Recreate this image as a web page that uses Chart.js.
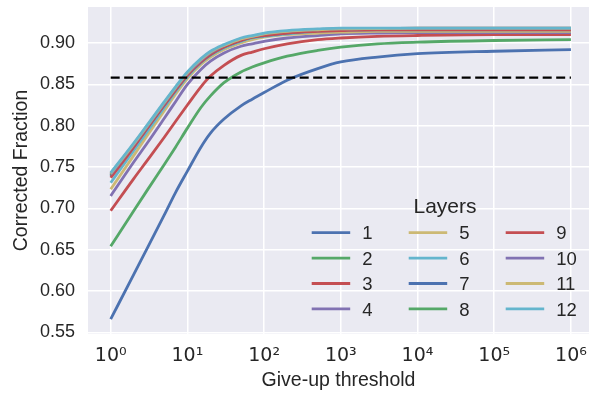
<!DOCTYPE html>
<html><head><meta charset="utf-8">
<script src="https://cdn.jsdelivr.net/npm/chart.js@4.4.0/dist/chart.umd.min.js"></script>
<style>html,body{margin:0;padding:0;background:#fff;}#wrap{width:589px;height:395px;}</style>
</head><body><div id="wrap"><canvas id="c" width="589" height="395"></canvas></div>
<script>
// ---- data ----
const thresholds = [1, 2, 3, 5, 7, 10, 15, 20, 30, 50, 70, 100, 200, 500, 1000, 3000, 10000, 100000, 1000000];
const layer1  = [0.566, 0.620, 0.652, 0.692, 0.719, 0.745, 0.774, 0.791, 0.808, 0.824, 0.832, 0.840, 0.855, 0.869, 0.877, 0.883, 0.887, 0.890, 0.892];
const layer2  = [0.654, 0.697, 0.722, 0.753, 0.774, 0.797, 0.822, 0.836, 0.852, 0.865, 0.871, 0.876, 0.884, 0.891, 0.895, 0.899, 0.901, 0.903, 0.904];
const layer3  = [0.697, 0.736, 0.758, 0.786, 0.805, 0.825, 0.847, 0.860, 0.873, 0.885, 0.889, 0.893, 0.899, 0.904, 0.906, 0.908, 0.909, 0.910, 0.910];
const layer4  = [0.715, 0.756, 0.779, 0.809, 0.829, 0.850, 0.868, 0.878, 0.888, 0.896, 0.899, 0.902, 0.906, 0.909, 0.911, 0.912, 0.9125, 0.9125, 0.9125];
const layer5  = [0.723, 0.764, 0.788, 0.818, 0.838, 0.857, 0.874, 0.883, 0.892, 0.900, 0.904, 0.907, 0.910, 0.912, 0.913, 0.914, 0.914, 0.914, 0.914];
const layer6  = [0.731, 0.770, 0.793, 0.822, 0.841, 0.859, 0.876, 0.885, 0.894, 0.902, 0.906, 0.908, 0.911, 0.914, 0.915, 0.916, 0.916, 0.916, 0.916];
const layer7  = [0.739, 0.775, 0.797, 0.825, 0.843, 0.861, 0.877, 0.886, 0.895, 0.903, 0.907, 0.909, 0.912, 0.915, 0.916, 0.9165, 0.917, 0.917, 0.917];
const layer8  = [0.740, 0.776, 0.798, 0.826, 0.844, 0.862, 0.878, 0.887, 0.896, 0.904, 0.907, 0.910, 0.913, 0.915, 0.916, 0.917, 0.917, 0.917, 0.917];
const layer9  = [0.737, 0.774, 0.797, 0.825, 0.843, 0.861, 0.877, 0.886, 0.895, 0.903, 0.907, 0.909, 0.912, 0.914, 0.915, 0.916, 0.916, 0.916, 0.916];
const layer10 = [0.741, 0.777, 0.799, 0.827, 0.845, 0.863, 0.879, 0.888, 0.897, 0.905, 0.908, 0.911, 0.914, 0.916, 0.917, 0.9175, 0.918, 0.918, 0.918];
const layer11 = [0.742, 0.778, 0.800, 0.828, 0.846, 0.864, 0.880, 0.889, 0.897, 0.905, 0.908, 0.911, 0.914, 0.916, 0.917, 0.9175, 0.918, 0.918, 0.918];
const layer12 = [0.743, 0.779, 0.801, 0.829, 0.847, 0.865, 0.881, 0.890, 0.898, 0.906, 0.909, 0.912, 0.915, 0.917, 0.918, 0.918, 0.918, 0.918, 0.918];
const layerSeries = [layer1, layer2, layer3, layer4, layer5, layer6, layer7, layer8, layer9, layer10, layer11, layer12];
const layerNames = ['1', '2', '3', '4', '5', '6', '7', '8', '9', '10', '11', '12'];
const baselineX = [1, 1000000];
const baselineY = [0.858, 0.858];
const xTickValues = [1, 10, 100, 1000, 10000, 100000, 1000000];
const yTickValues = [0.55, 0.60, 0.65, 0.70, 0.75, 0.80, 0.85, 0.90];
const legendTitle = 'Layers';
const xTitle = 'Give-up threshold';
const yTitle = 'Corrected Fraction';

// ---- styles ----
const palette = ['#4C72B0', '#55A868', '#C44E52', '#8172B2', '#CCB974', '#64B5CD'];
const FONT = '"Liberation Sans", Arial, Helvetica, sans-serif';
const MATHFONT = '"DejaVu Sans", sans-serif';
const TEXT = '#262626';
const sup = {'0':'\u2070','1':'\u00B9','2':'\u00B2','3':'\u00B3','4':'\u2074','5':'\u2075','6':'\u2076','7':'\u2077','8':'\u2078','9':'\u2079'};

const datasets = layerSeries.map((vals, i) => ({
  label: layerNames[i],
  data: thresholds.map((t, j) => ({x: t, y: vals[j]})),
  borderColor: palette[i % 6],
  backgroundColor: palette[i % 6],
  borderWidth: 2.8,
  pointRadius: 0,
  fill: false,
  cubicInterpolationMode: 'monotone',
  order: 12 - i + 1
}));
datasets.push({
  label: '_baseline',
  data: baselineX.map((x, j) => ({x, y: baselineY[j]})),
  borderColor: '#000000',
  borderWidth: 2.2,
  borderDash: [9, 4.5],
  pointRadius: 0,
  fill: false,
  order: 0
});

const bgPlugin = {
  id: 'bg',
  beforeDraw(chart) {
    const {ctx, chartArea: a} = chart;
    ctx.save();
    ctx.fillStyle = '#EAEAF2';
    ctx.fillRect(a.left, a.top, a.right - a.left, a.bottom - a.top);
    ctx.restore();
  }
};

const legendPlugin = {
  id: 'gridLegend',
  afterDatasetsDraw(chart) {
    const {ctx, chartArea: a} = chart;
    ctx.save();
    ctx.fillStyle = TEXT;
    ctx.font = '21px ' + FONT;
    ctx.textAlign = 'center';
    ctx.textBaseline = 'alphabetic';
    ctx.fillText(legendTitle, a.left + 357, a.bottom - 121.3);
    const fs = 18.5;
    ctx.font = fs + 'px ' + FONT;
    ctx.textAlign = 'left';
    for (let i = 0; i < 12; i++) {
      const ds = chart.data.datasets[i];
      const col = Math.floor(i / 4), row = i % 4;
      const x0 = a.left + 223.7 + col * 97;
      const y = a.bottom - 101.3 + row * 25.4;
      ctx.strokeStyle = ds.borderColor;
      ctx.lineWidth = 2.8;
      ctx.lineCap = 'butt';
      ctx.beginPath();
      ctx.moveTo(x0, y);
      ctx.lineTo(x0 + 38.5, y);
      ctx.stroke();
      ctx.fillStyle = TEXT;
      ctx.fillText(ds.label, x0 + 50.5, y + 0.358 * fs);
    }
    ctx.restore();
  }
};

function zeroPad(scale) {
  scale.paddingTop = 0; scale.paddingBottom = 0; scale.paddingLeft = 0; scale.paddingRight = 0;
}

new Chart(document.getElementById('c'), {
  type: 'line',
  data: {datasets},
  plugins: [bgPlugin, legendPlugin],
  options: {
    responsive: false,
    animation: false,
    devicePixelRatio: 1,
    layout: {padding: {left: 0, top: 7, right: 0, bottom: 0}},
    plugins: {legend: {display: false}, tooltip: {enabled: false}},
    scales: {
      x: {
        type: 'logarithmic',
        min: 0.506,
        max: 1720000,
        afterBuildTicks(scale) { scale.ticks = xTickValues.map(v => ({value: v})); },
        afterFit(scale) { scale.height = 61; zeroPad(scale); },
        ticks: {
          autoSkip: false,
          maxRotation: 0,
          padding: 11,
          color: TEXT,
          font: {family: MATHFONT, size: 19},
          callback(v) {
            const e = Math.round(Math.log10(v));
            return '10' + String(e).split('').map(c => sup[c]).join('');
          }
        },
        grid: {color: '#FFFFFF', lineWidth: 1.5, drawTicks: false},
        border: {display: false},
        title: {display: true, text: xTitle, color: TEXT, font: {family: FONT, size: 19.5}, padding: {top: 0, bottom: 3}}
      },
      y: {
        type: 'linear',
        min: 0.548,
        max: 0.9435,
        afterBuildTicks(scale) { scale.ticks = yTickValues.map(v => ({value: v})); },
        afterFit(scale) { scale.width = 88; zeroPad(scale); },
        ticks: {
          padding: 13,
          color: TEXT,
          font: {family: FONT, size: 18},
          callback(v) { return Number(v).toFixed(2); }
        },
        grid: {color: '#FFFFFF', lineWidth: 1.5, drawTicks: false},
        border: {display: false},
        title: {display: true, text: yTitle, color: TEXT, font: {family: FONT, size: 19.5}, padding: {top: 9.5, bottom: 0}}
      }
    }
  }
});
</script>
</body></html>
